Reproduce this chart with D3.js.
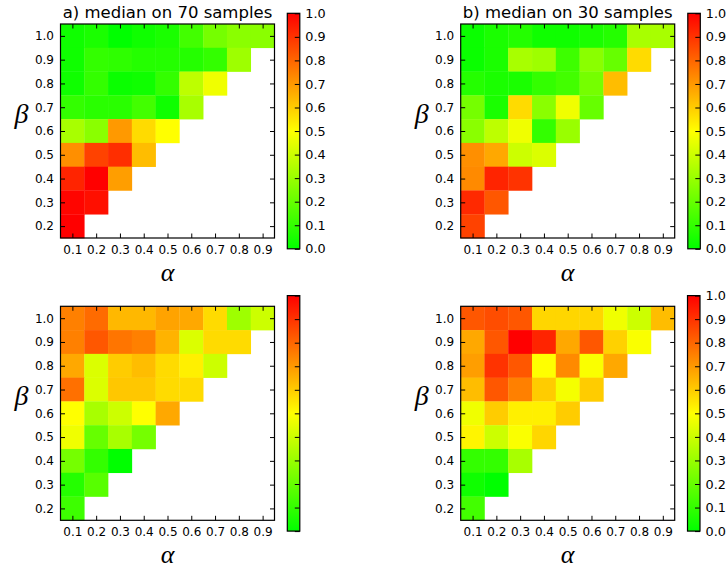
<!DOCTYPE html>
<html>
<head>
<meta charset="utf-8">
<script src="https://cdn.jsdelivr.net/npm/d3@7"></script>
<style>
  html, body { margin: 0; padding: 0; background: #fff; }
  svg { display: block; }
</style>
</head>
<body>
<svg id="chart" width="726" height="569"></svg>
<script>
// Parameter grid
const alphas = [0.1, 0.2, 0.3, 0.4, 0.5, 0.6, 0.7, 0.8, 0.9];
const betas = [1.0, 0.9, 0.8, 0.7, 0.6, 0.5, 0.4, 0.3, 0.2]; // top row first
const colorbarTicks = [0.0, 0.1, 0.2, 0.3, 0.4, 0.5, 0.6, 0.7, 0.8, 0.9, 1.0];

// Each row: values for alpha = 0.1, 0.2, ... (only defined where alpha < beta)
const medianA70 = [
  [0.03, 0.05, 0.00, 0.03, 0.05, 0.13, 0.23, 0.27, 0.27],
  [0.03, 0.10, 0.09, 0.07, 0.07, 0.07, 0.10, 0.31],
  [0.03, 0.10, 0.02, 0.03, 0.10, 0.37, 0.47],
  [0.10, 0.08, 0.08, 0.13, 0.03, 0.33],
  [0.33, 0.27, 0.70, 0.57, 0.50],
  [0.72, 0.87, 0.91, 0.63],
  [0.93, 1.00, 0.69],
  [0.99, 0.97],
  [1.00]
];
const medianB30 = [
  [0.02, 0.05, 0.07, 0.03, 0.03, 0.05, 0.07, 0.33, 0.33],
  [0.02, 0.05, 0.33, 0.31, 0.12, 0.27, 0.20, 0.57],
  [0.07, 0.05, 0.05, 0.10, 0.13, 0.23, 0.63],
  [0.23, 0.05, 0.57, 0.27, 0.47, 0.20],
  [0.27, 0.37, 0.47, 0.10, 0.30],
  [0.72, 0.67, 0.40, 0.43],
  [0.73, 0.93, 0.90],
  [0.92, 0.83],
  [0.87]
];
const medianC70 = [
  [0.75, 0.79, 0.64, 0.64, 0.68, 0.67, 0.57, 0.31, 0.40],
  [0.75, 0.83, 0.77, 0.75, 0.65, 0.43, 0.57, 0.57],
  [0.67, 0.43, 0.60, 0.63, 0.57, 0.53, 0.40],
  [0.78, 0.43, 0.61, 0.61, 0.57, 0.57],
  [0.50, 0.33, 0.40, 0.50, 0.67],
  [0.47, 0.20, 0.33, 0.23],
  [0.23, 0.10, 0.00],
  [0.07, 0.17],
  [0.12]
];
const medianD30 = [
  [0.83, 0.85, 0.83, 0.58, 0.58, 0.58, 0.47, 0.40, 0.63],
  [0.67, 0.83, 1.00, 0.93, 0.67, 0.83, 0.59, 0.49],
  [0.69, 0.90, 0.83, 0.50, 0.73, 0.49, 0.67],
  [0.63, 0.83, 0.75, 0.60, 0.48, 0.60],
  [0.47, 0.60, 0.53, 0.53, 0.60],
  [0.52, 0.40, 0.49, 0.58],
  [0.10, 0.10, 0.33],
  [0.03, 0.00],
  [0.13]
];

const panels = [
  { data: medianA70, title: "a) median on 70 samples", x: 60.5, y: 24, cbx: 287.3, cby: 13.3, cbLabels: true },
  { data: medianB30, title: "b) median on 30 samples", x: 460.7, y: 24, cbx: 687.8, cby: 13.3, cbLabels: true },
  { data: medianC70, title: null, x: 60.5, y: 306.3, cbx: 287.3, cby: 295.6, cbLabels: false },
  { data: medianD30, title: null, x: 460.7, y: 306.3, cbx: 687.5, cby: 295.6, cbLabels: true }
];

const size = 214;        // plot area side
const cbW = 12.5, cbH = 235.5;
const tickLen = 4.5;

const color = d3.scaleLinear()
  .domain([0, 0.5, 1])
  .range(["#00ff00", "#ffff00", "#ff0000"])
  .interpolate(d3.interpolateRgb);

const svg = d3.select("#chart");
const defs = svg.append("defs");
const grad = defs.append("linearGradient")
  .attr("id", "cbGrad")
  .attr("x1", 0).attr("y1", 1).attr("x2", 0).attr("y2", 0);
[0, 0.5, 1].forEach(v => {
  grad.append("stop").attr("offset", v).attr("stop-color", color(v));
});

const tickFont = "DejaVu Sans, Liberation Sans, sans-serif";
const greekFont = "Liberation Serif, DejaVu Serif, serif";

panels.forEach(p => {
  const g = svg.append("g").attr("transform", `translate(${p.x},${p.y})`);

  const xs = d3.scaleLinear().domain([0.05, 0.95]).range([0, size]);
  const ys = d3.scaleLinear().domain([0.15, 1.05]).range([size, 0]);
  const step = 0.1;

  // cells
  const cells = [];
  p.data.forEach((row, ri) => {
    row.forEach((v, ci) => {
      if (v != null) cells.push({ a: alphas[ci], b: betas[ri], v });
    });
  });
  g.append("g").selectAll("rect").data(cells).join("rect")
    .attr("x", d => xs(d.a - step / 2))
    .attr("y", d => ys(d.b + step / 2))
    .attr("width", d => xs(d.a + step / 2) - xs(d.a - step / 2) + 0.3)
    .attr("height", d => ys(d.b - step / 2) - ys(d.b + step / 2) + 0.3)
    .attr("fill", d => color(d.v));

  // axes with inward ticks on all four sides
  const fmt = d3.format(".1f");
  const bottom = g.append("g").attr("transform", `translate(0,${size})`)
    .call(d3.axisBottom(xs).tickValues(alphas).tickFormat(fmt).tickSize(-tickLen).tickPadding(6));
  const top = g.append("g")
    .call(d3.axisTop(xs).tickValues(alphas).tickFormat("").tickSize(-tickLen));
  const left = g.append("g")
    .call(d3.axisLeft(ys).tickValues(betas).tickFormat(fmt).tickSize(-tickLen).tickPadding(7));
  const right = g.append("g").attr("transform", `translate(${size},0)`)
    .call(d3.axisRight(ys).tickValues(betas).tickFormat("").tickSize(-tickLen));
  [bottom, top, left, right].forEach(ax => {
    ax.select(".domain").remove();
    ax.selectAll(".tick line").attr("stroke", "#000").attr("stroke-width", 1);
    ax.selectAll("text").attr("font-family", tickFont).attr("font-size", 12).attr("fill", "#000");
  });
  bottom.selectAll("text").attr("dy", null).attr("y", 0).attr("transform", "translate(0,16)");
  left.selectAll("text").attr("x", -6.5);

  g.append("rect")
    .attr("x", 0).attr("y", 0).attr("width", size).attr("height", size)
    .attr("fill", "none").attr("stroke", "#000").attr("stroke-width", 1.2);

  // axis labels
  g.append("text")
    .attr("x", size / 2).attr("y", size + 43)
    .attr("text-anchor", "middle")
    .attr("font-family", greekFont).attr("font-style", "italic").attr("font-size", 26)
    .text("α");
  g.append("text")
    .attr("x", -39).attr("y", size / 2 - 8)
    .attr("text-anchor", "middle")
    .attr("font-family", greekFont).attr("font-style", "italic").attr("font-size", 28)
    .text("β");

  if (p.title) {
    g.append("text")
      .attr("x", size / 2).attr("y", -6)
      .attr("text-anchor", "middle")
      .attr("font-family", tickFont).attr("font-size", 16.5)
      .text(p.title);
  }

  // colorbar
  const cb = svg.append("g").attr("transform", `translate(${p.cbx},${p.cby})`);
  const cs = d3.scaleLinear().domain([0, 1]).range([cbH, 0]);
  cb.append("rect").attr("width", cbW).attr("height", cbH).attr("fill", "url(#cbGrad)");
  const cbAxis = cb.append("g").attr("transform", `translate(${cbW},0)`)
    .call(d3.axisRight(cs).tickValues(colorbarTicks)
      .tickFormat(p.cbLabels ? d3.format(".1f") : "")
      .tickSize(-5).tickPadding(10));
  cbAxis.select(".domain").remove();
  cbAxis.selectAll(".tick line").attr("stroke", "#000").attr("stroke-width", 1);
  cbAxis.selectAll("text").attr("font-family", tickFont).attr("font-size", 12.8).attr("fill", "#000")
    .attr("x", 5.5);
  cb.append("rect").attr("width", cbW).attr("height", cbH)
    .attr("fill", "none").attr("stroke", "#000").attr("stroke-width", 1.2);
});
</script>
</body>
</html>
